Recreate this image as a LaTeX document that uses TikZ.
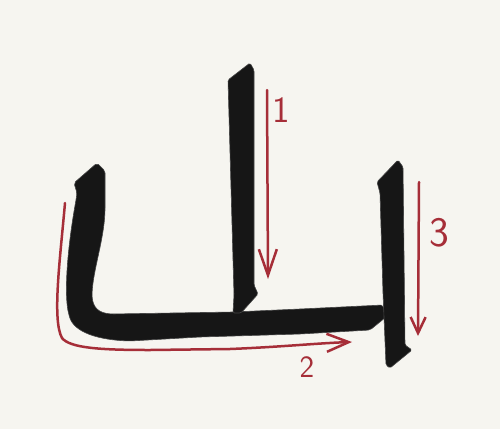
\documentclass[tikz,border=0pt]{standalone}
\usetikzlibrary{arrows.meta}

\definecolor{paper}{RGB}{246,245,240}
\definecolor{ink}{RGB}{22,22,22}
\definecolor{pen}{RGB}{166,46,56}

\tikzset{
    ink/.style={fill=ink, draw=ink!80, line width=0.6pt, line join=round},
    guide/.style={draw=pen, line width=2.5pt, line cap=round, line join=round},
    num/.style={text=pen, font=\sffamily, inner sep=0pt}
}

\begin{document}
\begin{tikzpicture}[x=1pt, y=-1pt]
    % Paper
    \fill[paper] (0,0) rectangle (500,429);
    \useasboundingbox (0,0) rectangle (500,429);

    % Draw ink strokes (left hook and base line)
    \path[ink, rounded corners=2pt]
        (97,163) -- (105,171) -- (105,210)
        .. controls (104,240) and (93,270) .. (92,295)
        .. controls (93,308) and (99,313) .. (112,314)
        -- (233,312) -- (300,309) -- (383,305) -- (386,317) -- (370,330)
        -- (300,334) -- (200,337) -- (130,341)
        .. controls (100,340) and (74,333) .. (69,315)
        .. controls (64,295) and (67,250) .. (76,200)
        -- (77,193) -- (74,183) -- cycle;
    % first stroke
    \path[ink, rounded corners=1.5pt]
        (250,63) -- (254,70) -- (254,285) -- (258,294) -- (241,313)
        -- (233,313) -- (234,295) -- (228,80) -- cycle;
    % third stroke
    \path[ink, rounded corners=1.5pt]
        (398,160) -- (403,167) -- (405,345) -- (412,350) -- (390,368)
        -- (386,365) -- (383,293) -- (380,193) -- (377,182) -- cycle;

    % Draw stroke directions
    \foreach \n/\sx/\sy/\ex/\ey/\hl/\hw in {1/267/90/268/279/26/18, 3/419/182/418/336/16/15}{
        \coordinate (s\n) at (\sx,\sy);
        \coordinate (e\n) at (\ex,\ey);
        \draw[guide, -{Straight Barb[length=\hl pt, width=\hw pt]}] (s\n) -- (e\n);
    }
    \coordinate (s2) at (65,203);
    \coordinate (e2) at (352,342);
    \draw[guide, -{Straight Barb[length=22pt, width=18pt]}] (s2)
        .. controls (60,260) and (52,320) .. (62,338)
        .. controls (70,348) and (100,350) .. (150,350)
        -- (230,349) .. controls (280,347) and (320,343) .. (e2);

    % Numbers
    \node[num, font=\sffamily\fontsize{37}{37}\selectfont] (n1) at (281,110) {1};
    \node[num, font=\sffamily\fontsize{31}{31}\selectfont] (n2) at (307,367) {2};
    \node[num, font=\sffamily\fontsize{42}{42}\selectfont] (n3) at (439,233) {3};
\end{tikzpicture}
\end{document}
